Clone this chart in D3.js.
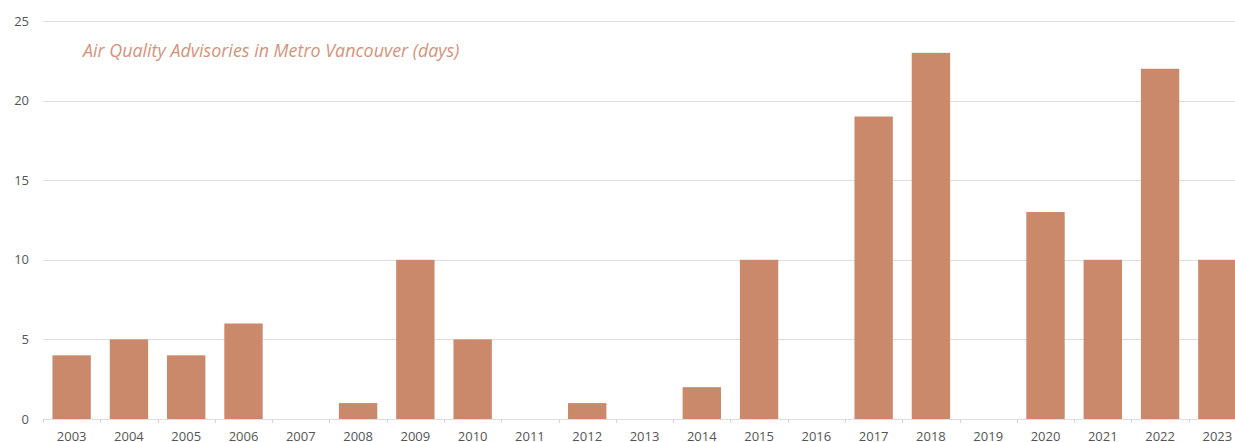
<!DOCTYPE html>
<html>
<head>
<meta charset="utf-8">
<script src="https://cdn.jsdelivr.net/npm/d3@7.9.0/dist/d3.min.js"></script>
<style>
  html, body { margin: 0; padding: 0; background: #fff; overflow: hidden; }
  svg { display: block; font-family: 'Open Sans', sans-serif; }
</style>
</head>
<body>
<div id="chart"></div>
<script>
const years = ['2003', '2004', '2005', '2006', '2007', '2008', '2009', '2010', '2011', '2012', '2013',
  '2014', '2015', '2016', '2017', '2018', '2019', '2020', '2021', '2022', '2023'];
const advisoryDays = [4, 5, 4, 6, 0, 1, 10, 5, 0, 1, 0, 2, 10, 0, 19, 23, 0, 13, 10, 22, 10];
const yTicks = [0, 5, 10, 15, 20, 25];
const chartTitle = 'Air Quality Advisories in Metro Vancouver (days)';

const width = 1235;
const height = 442;
const plot = { left: 43, right: 1246, top: 21, bottom: 419 };

const data = years.map((year, i) => ({ year, value: advisoryDays[i] }));

const x = d3.scaleBand().domain(years).range([plot.left, plot.right]).paddingInner(0.33).paddingOuter(0.165);
const y = d3.scaleLinear().domain([0, 25]).range([plot.bottom, plot.top]);

const svg = d3.select('#chart').append('svg').attr('width', width).attr('height', height);

// gridlines
svg.append('g')
  .selectAll('line')
  .data(yTicks)
  .join('line')
  .attr('x1', plot.left)
  .attr('x2', plot.right)
  .attr('y1', (d) => Math.round(y(d)) + 0.5)
  .attr('y2', (d) => Math.round(y(d)) + 0.5)
  .attr('stroke', '#dedede')
  .attr('stroke-width', 1);

// y labels
svg.append('g')
  .selectAll('text')
  .data(yTicks)
  .join('text')
  .attr('x', 29)
  .attr('y', (d) => y(d))
  .attr('dy', '0.35em')
  .attr('text-anchor', 'end')
  .attr('font-size', 13)
  .attr('fill', '#555')
  .text((d) => d);

// x tick marks at band boundaries
const step = x.step();
const boundaries = d3.range(years.length + 1).map((i) => plot.left + i * step);
svg.append('g')
  .selectAll('line')
  .data(boundaries)
  .join('line')
  .attr('x1', (d) => Math.round(d) + 0.5)
  .attr('x2', (d) => Math.round(d) + 0.5)
  .attr('y1', plot.bottom)
  .attr('y2', plot.bottom + 4)
  .attr('stroke', '#d6d6d6');

// bars
svg.append('g')
  .selectAll('rect')
  .data(data)
  .join('rect')
  .attr('x', (d) => x(d.year))
  .attr('width', x.bandwidth())
  .attr('y', (d) => y(d.value))
  .attr('height', (d) => y(0) - y(d.value))
  .attr('fill', '#cb896b');

// x labels
svg.append('g')
  .selectAll('text')
  .data(years)
  .join('text')
  .attr('x', (d) => x(d) + x.bandwidth() / 2)
  .attr('y', 441)
  .attr('text-anchor', 'middle')
  .attr('font-size', 13)
  .attr('fill', '#555')
  .text((d) => d);

svg.append('text')
  .attr('x', 83)
  .attr('y', 57)
  .attr('font-size', 17.9)
  .attr('font-style', 'italic')
  .attr('fill', '#d6937a')
  .text(chartTitle);
</script>
</body>
</html>
